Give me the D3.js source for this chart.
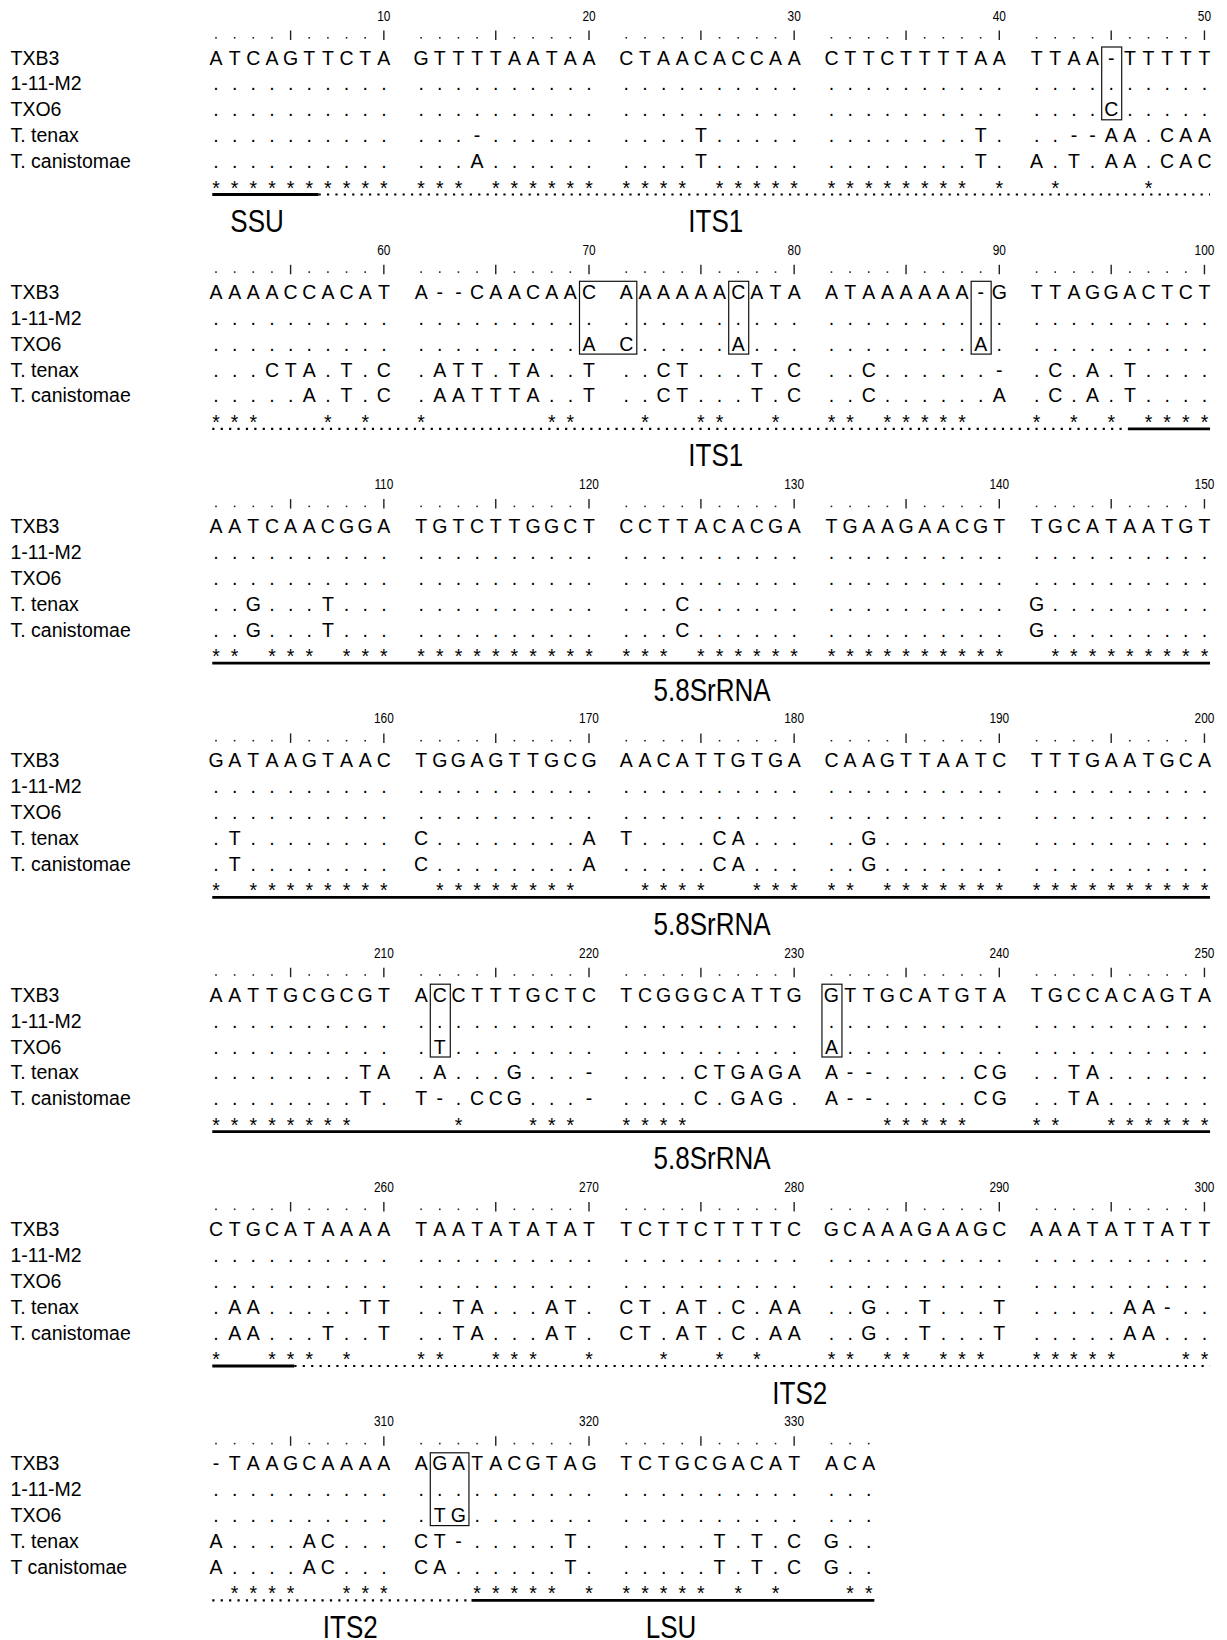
<!DOCTYPE html>
<html>
<head>
<meta charset="utf-8">
<script src="https://cdn.jsdelivr.net/npm/d3@7"></script>
<style>
    body { margin: 0; background: #fff; }
    .name, .residue, .star { font-family: "Liberation Sans", Arial, sans-serif; font-size: 19.5px; }
    .pos, .region-label { font-family: "Liberation Sans", Arial, sans-serif; }
</style>
</head>
<body>
<div class="alignment-container"></div>
<script>
// rows of the alignment, top to bottom
var taxa = ['TXB3', '1-11-M2', 'TXO6', 'T. tenax', 'T. canistomae'];
var taxaLastBlock = ['TXB3', '1-11-M2', 'TXO6', 'T. tenax', 'T canistomae'];

// sequences in groups of ten, "." = same as TXB3
var seqTXB3 = [
    'ATCAGTTCTA', 'GTTTTAATAA', 'CTAACACCAA', 'CTTCTTTTAA', 'TTAA-TTTTT',
    'AAAACCACAT', 'A--CAACAAC', 'AAAAAACATA', 'ATAAAAAA-G', 'TTAGGACTCT',
    'AATCAACGGA', 'TGTCTTGGCT', 'CCTTACACGA', 'TGAAGAACGT', 'TGCATAATGT',
    'GATAAGTAAC', 'TGGAGTTGCG', 'AACATTGTGA', 'CAAGTTAATC', 'TTTGAATGCA',
    'AATTGCGCGT', 'ACCTTTGCTC', 'TCGGGCATTG', 'GTTGCATGTA', 'TGCCACAGTA',
    'CTGCATAAAA', 'TAATATATAT', 'TCTTCTTTTC', 'GCAAAGAAGC', 'AAATATTATT',
    '-TAAGCAAAA', 'AGATACGTAG', 'TCTGCGACAT', 'ACA'
];
var seqM2 = [
    '..........', '..........', '..........', '..........', '..........',
    '..........', '..........', '..........', '..........', '..........',
    '..........', '..........', '..........', '..........', '..........',
    '..........', '..........', '..........', '..........', '..........',
    '..........', '..........', '..........', '..........', '..........',
    '..........', '..........', '..........', '..........', '..........',
    '..........', '..........', '..........', '...'
];
var seqTXO6 = [
    '..........', '..........', '..........', '..........', '....C.....',
    '..........', '.........A', 'C.....A...', '........A.', '..........',
    '..........', '..........', '..........', '..........', '..........',
    '..........', '..........', '..........', '..........', '..........',
    '..........', '.T........', '..........', 'A.........', '..........',
    '..........', '..........', '..........', '..........', '..........',
    '..........', '.TG.......', '..........', '...'
];
var seqTenax = [
    '..........', '...-......', '....T.....', '........T.', '..--AA.CAA',
    '...CTA.T.C', '.ATT.TA..T', '..CT...T.C', '..C......-', '.C.A.T....',
    '..G...T...', '..........', '...C......', '..........', 'G.........',
    '.T........', 'C........A', 'T....CA...', '..G.......', '..........',
    '........TA', '.A...G...-', '....CTGAGA', 'A--.....CG', '..TA......',
    '.AA.....TT', '..TA...AT.', 'CT.AT.C.AA', '..G..T...T', '.....AA-..',
    'A....AC...', 'CT-.....T.', '.....T.T.C', 'G..'
];
var seqCanistomae = [
    '..........', '...A......', '....T.....', '........T.', 'A.T.AA.CAC',
    '.....A.T.C', '.AATTTA..T', '..CT...T.C', '..C......A', '.C.A.T....',
    '..G...T...', '..........', '...C......', '..........', 'G.........',
    '.T........', 'C........A', '.....CA...', '..G.......', '..........',
    '........T.', 'T-.CCG...-', '....C.GAG.', 'A--.....CG', '..TA......',
    '.AA...T..T', '..TA...AT.', 'CT.AT.C.AA', '..G..T...T', '.....AA...',
    'A....AC...', 'CA......T.', '.....T.T.C', 'G..'
];

// boxed columns (first, last)
var boxes = [[45, 45], [70, 71], [77, 77], [89, 89], [212, 212], [231, 231], [312, 313]];

// rRNA regions along the alignment, in column numbers
var regions = [
    { name: 'SSU', from: 0, to: 6.5, line: 'solid' },
    { name: 'ITS1', from: 6.5, to: 95.9, line: 'dotted' },
    { name: '5.8SrRNA', from: 95.9, to: 255.2, line: 'solid' },
    { name: 'ITS2', from: 255.2, to: 313.7, line: 'dotted' },
    { name: 'LSU', from: 313.7, to: 334, line: 'solid' }
];
// region names written under the blocks, centred on a column
var regionLabels = [
    { text: 'SSU', col: 3.2 },
    { text: 'ITS1', col: 25.8 },
    { text: 'ITS1', col: 75.8 },
    { text: '5.8SrRNA', col: 125.6 },
    { text: '5.8SrRNA', col: 175.6 },
    { text: '5.8SrRNA', col: 225.6 },
    { text: 'ITS2', col: 280.3 },
    { text: 'ITS2', col: 308.2 },
    { text: 'LSU', col: 323.4 }
];

var alignment = {
    draw: function () {
        this.defineComponents();
        this.addPositions();
        this.addNames();
        this.addResidues();
        this.addBoxes();
        this.addStars();
        this.addRegions();
    },
    defineComponents: function () {
        this.seqs = [seqTXB3, seqM2, seqTXO6, seqTenax, seqCanistomae].map(function (g) {
            return g.join('');
        });
        this.length = this.seqs[0].length;
        this.perBlock = 50;
        this.blocks = d3.range(Math.ceil(this.length / this.perBlock));

        this.svg = d3.select('.alignment-container')
            .append('svg')
            .attr('width', 1227)
            .attr('height', 1640);

        // column units (a gap of one unit after every ten residues)
        this.unitScale = d3.scaleLinear().domain([0, 53]).range([216, 216 + 53 * 18.65]);
        // y of the first row of each block
        this.blockScale = d3.scaleLinear().domain([0, 1]).range([57.5, 291.8]);
        this.rowScale = d3.scaleLinear().domain([0, 1]).range([0, 25.9]);
    },
    blockOf: function (col) {
        return Math.floor((Math.round(col) - 1) / this.perBlock);
    },
    colX: function (col, block) {
        if (block === undefined) block = this.blockOf(col);
        var j = col - (block * this.perBlock + 1);
        var g = Math.floor(Math.max(0, Math.min(j, 49)) / 10);
        return this.unitScale(j + g);
    },
    rowY: function (block, row) {
        return this.blockScale(block) + this.rowScale(row);
    },
    addPositions: function () {
        var that = this;
        var cols = d3.range(1, this.length + 1);
        var g = this.svg.append('g');

        g.selectAll('.tick-dot')
            .data(cols.filter(function (c) { return c % 5 !== 0; }))
            .enter()
            .append('rect')
            .attr('fill', '#222')
            .attr('width', 1.6)
            .attr('height', 1.6)
            .attr('x', function (c) { return that.colX(c) - 0.8; })
            .attr('y', function (c) { return that.blockScale(that.blockOf(c)) - 20.5; });

        g.selectAll('.tick-bar')
            .data(cols.filter(function (c) { return c % 5 === 0; }))
            .enter()
            .append('line')
            .attr('stroke', '#222')
            .attr('stroke-width', 1.4)
            .attr('x1', function (c) { return that.colX(c); })
            .attr('x2', function (c) { return that.colX(c); })
            .attr('y1', function (c) { return that.blockScale(that.blockOf(c)) - 27; })
            .attr('y2', function (c) { return that.blockScale(that.blockOf(c)) - 17.5; });

        // narrow digits: squeeze horizontally
        g.selectAll('.pos')
            .data(cols.filter(function (c) { return c % 10 === 0; }))
            .enter()
            .append('text')
            .attr('class', 'pos')
            .attr('font-size', '14.5px')
            .attr('text-anchor', 'middle')
            .attr('transform', function (c) {
                return 'translate(' + that.colX(c) + ',' + (that.blockScale(that.blockOf(c)) - 37) + ') scale(0.82,1)';
            })
            .text(function (c) { return c; });
    },
    addNames: function () {
        var that = this;
        var last = this.blocks.length - 1;
        this.blocks.forEach(function (b) {
            that.svg.append('g').selectAll('.name')
                .data(b === last ? taxaLastBlock : taxa)
                .enter()
                .append('text')
                .attr('class', 'name')
                .attr('x', 10.5)
                .attr('y', function (d, i) { return that.rowY(b, i) + 7; })
                .text(function (d) { return d; });
        });
    },
    addResidues: function () {
        var that = this;
        var cells = [];
        this.seqs.forEach(function (s, row) {
            s.split('').forEach(function (ch, i) {
                cells.push({ row: row, col: i + 1, ch: ch });
            });
        });
        this.svg.append('g').selectAll('.residue')
            .data(cells)
            .enter()
            .append('text')
            .attr('class', 'residue')
            .attr('text-anchor', 'middle')
            .attr('x', function (d) { return that.colX(d.col); })
            .attr('y', function (d) { return that.rowY(that.blockOf(d.col), d.row) + 7; })
            .text(function (d) { return d.ch; });
    },
    addBoxes: function () {
        var that = this;
        this.svg.append('g').selectAll('.box')
            .data(boxes)
            .enter()
            .append('rect')
            .attr('fill', 'none')
            .attr('stroke', '#111')
            .attr('stroke-width', 1.2)
            .attr('x', function (d) { return that.colX(d[0]) - 9.5; })
            .attr('width', function (d) { return that.colX(d[1]) - that.colX(d[0]) + 20; })
            .attr('y', function (d) { return that.rowY(that.blockOf(d[0]), 0) - 10.5; })
            .attr('height', this.rowScale(2) + 21);
    },
    addStars: function () {
        var that = this;
        // a star where every other row agrees with TXB3
        var conserved = d3.range(1, this.length + 1).filter(function (c) {
            return that.seqs.slice(1).every(function (s) { return s[c - 1] === '.'; });
        });
        this.svg.append('g').selectAll('.star')
            .data(conserved)
            .enter()
            .append('text')
            .attr('class', 'star')
            .attr('text-anchor', 'middle')
            .attr('x', function (c) { return that.colX(c); })
            .attr('y', function (c) { return that.blockScale(that.blockOf(c)) + 137; })
            .text('*');
    },
    addRegions: function () {
        var that = this;
        var segs = [];
        this.blocks.forEach(function (b) {
            var first = b * that.perBlock + 1;
            var last = Math.min(first + that.perBlock - 1, that.length);
            regions.forEach(function (r) {
                var a = Math.max(r.from, first - 0.2);
                var e = Math.min(r.to, last + 0.3);
                if (e > a) segs.push({ block: b, from: a, to: e, line: r.line });
            });
        });

        this.svg.append('g').selectAll('.region')
            .data(segs)
            .enter()
            .append('line')
            .attr('stroke', '#000')
            .attr('stroke-width', function (d) { return d.line === 'solid' ? 2.8 : 2.2; })
            .attr('stroke-dasharray', function (d) { return d.line === 'solid' ? null : '2.2,6.2'; })
            .attr('x1', function (d) { return that.colX(d.from, d.block); })
            .attr('x2', function (d) { return that.colX(d.to, d.block); })
            .attr('y1', function (d) { return that.blockScale(d.block) + 137; })
            .attr('y2', function (d) { return that.blockScale(d.block) + 137; });

        // condensed heading type: squeeze a regular face
        this.svg.append('g').selectAll('.region-label')
            .data(regionLabels)
            .enter()
            .append('text')
            .attr('class', 'region-label')
            .attr('font-size', '31px')
            .attr('text-anchor', 'middle')
            .attr('transform', function (d) {
                var b = that.blockOf(d.col);
                return 'translate(' + that.colX(d.col, b) + ',' + (that.blockScale(b) + 174.5) + ') scale(0.84,1)';
            })
            .text(function (d) { return d.text; });
    }
};

alignment.draw();
</script>
</body>
</html>
